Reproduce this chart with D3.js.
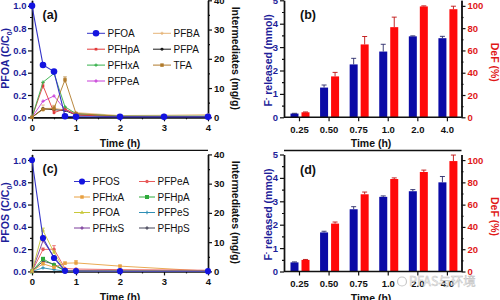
<!DOCTYPE html>
<html>
<head>
<meta charset="utf-8">
<script src="https://cdn.jsdelivr.net/npm/d3@7"></script>
<style>
body { margin: 0; background: #fff; }
svg { font-family: "Liberation Sans", Arial, sans-serif; }
</style>
</head>
<body>
<svg id="chart" width="500" height="300"></svg>
<script>
// ---- panel (a): PFOA degradation ----
var timeA = [0, 0.25, 0.5, 0.75, 1, 2, 3, 4];
var pfoaA = [1.0, 0.47, 0.41, 0.01, 0.005, 0.004, 0.004, 0.004];
var pfoaErrA = [0, 0.02, 0.012, 0.004, 0, 0, 0, 0];
var pfhpaA = [0, 10.8, 1.6, 2.9, 0.8, 0.3, 0.3, 0.3];
var pfhpaErrA = [0, 1.0, 0.6, 0.3, 0, 0, 0, 0];
var pfhxaA = [0, 12.0, 15.0, 3.6, 1.2, 0.4, 0.4, 0.4];
var pfpeaA = [0, 5.5, 7.3, 2.6, 1.0, 0.3, 0.3, 0.3];
var pfbaA = [0, 3.0, 3.1, 2.5, 1.6, 0.6, 0.7, 0.9];
var pfbaErrA = [0, 1.2, 1.0, 0.4, 0, 0, 0, 0];
var pfpaA = [0, 2.9, 2.6, 2.3, 0.8, 0.2, 0.2, 0.2];
var tfaA = [0, 2.7, 3.0, 12.8, 1.3, 0.3, 0.3, 0.3];
var tfaErrA = [0, 0.3, 0.8, 1.0, 0, 0, 0, 0];

// ---- panel (c): PFOS degradation ----
var timeC = [0, 0.25, 0.5, 0.75, 1, 2, 4];
var pfosC = [1.0, 0.30, 0.12, 0.005, 0.003, 0.002, 0.002];
var pfosErrC = [0, 0.015, 0.012, 0, 0, 0, 0];
var pfhxaC = [0, 2.6, 1.4, 2.8, 2.9, 1.8, 0.1];
var pfhxaErrC = [0, 0.5, 0.3, 0.4, 0.8, 0.3, 0];
var pfoaC = [0, 14.0, 6.5, 0.3, 0.2, 0.1, 0.1];
var pfoaErrC = [0, 0.8, 0.5, 0, 0, 0, 0];
var pfhxsC = [0, 10.5, 5.0, 0.3, 0.2, 0.1, 0.1];
var pfpeaC = [0, 7.5, 7.6, 1.0, 0.8, 0.6, 0.4];
var pfpeaErrC = [0, 0.5, 1.2, 0, 0, 0, 0];
var pfhpaC = [0, 4.3, 2.1, 0.2, 0.1, 0.1, 0.1];
var pfpesC = [0, 1.2, 0.6, 0.1, 0, 0, 0];
var pfhpsC = [0, 3.5, 2.5, 0.2, 0.1, 0.1, 0.1];

// ---- panels (b) and (d): fluoride release ----
var timeCats = ["0.25", "0.50", "0.75", "1.0", "2.0", "4.0"];
var fRelB = [0.16, 1.27, 2.26, 2.81, 3.46, 3.38];
var fRelErrB = [0.01, 0.11, 0.26, 0.31, 0.02, 0.08];
var defB = [4.5, 36.7, 65.4, 80.9, 99.5, 97.0];
var defErrB = [0.3, 3.6, 7.1, 9.0, 0.5, 2.7];
var fRelD = [0.39, 1.67, 2.66, 3.19, 3.43, 3.81];
var fRelErrD = [0.02, 0.05, 0.11, 0.04, 0.07, 0.25];
var defD = [10.4, 43.0, 69.3, 83.0, 89.3, 99.1];
var defErrD = [0.4, 1.4, 2.0, 1.0, 1.7, 5.4];

var blueTxt = "#1e1e9a";
var redTxt = "#e01818";
var barBlue = "#0b0ba6";
var barRed = "#ff0a0a";

var svg = d3.select("#chart");

function styleAxis(g, color) {
    g.select(".domain").attr("stroke", "#111").attr("stroke-width", 1.4);
    g.selectAll(".tick line").attr("stroke", "#111").attr("stroke-width", 1.2);
    g.selectAll(".tick text")
        .attr("fill", color)
        .attr("font-weight", "bold")
        .attr("font-size", 9.5)
        .attr("font-family", "Liberation Sans, Arial, sans-serif");
}

// majors with labels + minors without
function addAxis(g, axisFn, scale, majors, minors, fmt, color, pad) {
    var a = g.append("g");
    a.call(axisFn(scale).tickValues(majors).tickSize(4).tickSizeOuter(0).tickPadding(pad).tickFormat(fmt));
    styleAxis(a, color);
    var m = g.append("g");
    m.call(axisFn(scale).tickValues(minors).tickSize(2).tickSizeOuter(0).tickFormat(""));
    styleAxis(m, color);
    return a;
}

function marker(sel, s) {
    sel.attr("d", d3.symbol().type(s.sym).size(s.size))
        .attr("fill", s.color)
        .attr("stroke", "none");
}

function linePanel(p) {
    var g = svg.append("g");
    var x = d3.scaleLinear().domain([0, 4]).range([32, 208]);
    var yL = d3.scaleLinear().domain([0, 1.05]).range([p.bottom, p.bottom - 117]);
    var yR = d3.scaleLinear().domain([0, 40]).range([p.bottom, p.bottom - 117]);

    // top frame
    g.append("line").attr("x1", 32).attr("x2", 208)
        .attr("y1", p.bottom - 121).attr("y2", p.bottom - 121)
        .attr("stroke", "#111").attr("stroke-width", 1.4);

    var gx = g.append("g").attr("transform", "translate(0," + p.bottom + ")");
    addAxis(gx, d3.axisBottom, x, [0, 1, 2, 3, 4], [0.5, 1.5, 2.5, 3.5], d3.format("d"), "#111", 3);
    var gl = g.append("g").attr("transform", "translate(32,0)");
    addAxis(gl, d3.axisLeft, yL, [0, 0.2, 0.4, 0.6, 0.8, 1.0], [0.1, 0.3, 0.5, 0.7, 0.9], d3.format(".1f"), blueTxt, 1.5);
    var gr = g.append("g").attr("transform", "translate(208,0)");
    addAxis(gr, d3.axisRight, yR, [0, 10, 20, 30, 40], [5, 15, 25, 35], d3.format("d"), "#111", 2);

    var all = p.inter.concat([p.main]);
    all.forEach(function (s) {
        var y = s.axis === "L" ? yL : yR;
        var pts = s.t.map(function (t, i) { return [t, s.v[i], s.err ? s.err[i] : 0]; });
        g.append("path")
            .attr("fill", "none")
            .attr("stroke", s.line || s.color)
            .attr("stroke-width", s.axis === "L" ? 1.1 : 0.9)
            .attr("d", d3.line().x(function (d) { return x(d[0]); }).y(function (d) { return y(d[1]); })(pts));
        pts.forEach(function (d) {
            if (d[2] > 0) {
                var y1 = y(d[1] + d[2]), y2 = y(Math.max(0, d[1] - d[2]));
                g.append("line").attr("x1", x(d[0])).attr("x2", x(d[0])).attr("y1", y1).attr("y2", y2)
                    .attr("stroke", s.color).attr("stroke-width", 0.8);
                g.append("line").attr("x1", x(d[0]) - 1.8).attr("x2", x(d[0]) + 1.8).attr("y1", y1).attr("y2", y1)
                    .attr("stroke", s.color).attr("stroke-width", 0.8);
            }
        });
        g.selectAll(null).data(pts).enter().append("path")
            .attr("transform", function (d) { return "translate(" + x(d[0]) + "," + y(d[1]) + ")"; })
            .call(marker, s);
    });

    // legend
    p.legend.forEach(function (it) {
        var s = it.s;
        g.append("line").attr("x1", it.x1).attr("x2", it.x2).attr("y1", it.y).attr("y2", it.y)
            .attr("stroke", s.line || s.color).attr("stroke-width", 1);
        g.append("path")
            .attr("transform", "translate(" + ((it.x1 + it.x2) / 2) + "," + it.y + ")")
            .call(marker, s);
        g.append("text").attr("x", it.x2 + 2.5).attr("y", it.y + 3.6)
            .attr("font-size", 10).attr("fill", "#111").text(s.name);
    });

    // titles
    g.append("text").attr("x", 42.5).attr("y", p.bottom - 98).attr("font-size", 12.5)
        .attr("font-weight", "bold").attr("fill", "#111").text(p.letter);
    g.append("text").attr("x", 120).attr("y", p.bottom + 30)
        .attr("text-anchor", "middle").attr("font-size", 10.5).attr("font-weight", "bold")
        .attr("fill", "#111").text("Time (h)");
    var lt = g.append("text")
        .attr("transform", "translate(9," + (p.bottom - 59) + ") rotate(-90)")
        .attr("text-anchor", "middle").attr("font-size", 10.5).attr("font-weight", "bold")
        .attr("fill", blueTxt);
    lt.append("tspan").text(p.yTitle + " (C/C");
    lt.append("tspan").attr("font-size", 7).attr("dy", 2.5).text("0");
    lt.append("tspan").attr("dy", -2.5).text(")");
    g.append("text")
        .attr("transform", "translate(232," + (p.bottom - 59) + ") rotate(90)")
        .attr("text-anchor", "middle").attr("font-size", 10.5).attr("font-weight", "bold")
        .attr("fill", "#111").text("Intermediates (mg/g)");
}

function barPanel(p) {
    var g = svg.append("g");
    var x0 = 284, x1 = 461.5;
    var x = d3.scaleBand().domain(timeCats).range([x0, x1]);
    var yL = d3.scaleLinear().domain([0, 5]).range([p.bottom, p.bottom - 117]);
    var yR = d3.scaleLinear().domain([0, 105]).range([p.bottom, p.bottom - 117]);

    g.append("line").attr("x1", x0).attr("x2", x1)
        .attr("y1", p.bottom - 121).attr("y2", p.bottom - 121)
        .attr("stroke", "#111").attr("stroke-width", 1.4);

    function cx(c) { return x(c) + x.bandwidth() / 2 + 0.7; }

    // bars
    g.selectAll(null).data(timeCats).enter().append("rect")
        .attr("x", function (c) { return cx(c) - 9; })
        .attr("width", 8)
        .attr("y", function (c, i) { return yL(p.fRel[i]); })
        .attr("height", function (c, i) { return p.bottom - yL(p.fRel[i]); })
        .attr("fill", barBlue);
    g.selectAll(null).data(timeCats).enter().append("rect")
        .attr("x", function (c) { return cx(c) + 2; })
        .attr("width", 8)
        .attr("y", function (c, i) { return yR(p.def[i]); })
        .attr("height", function (c, i) { return p.bottom - yR(p.def[i]); })
        .attr("fill", barRed);

    // error bars (upper side)
    timeCats.forEach(function (c, i) {
        var bx = cx(c) - 5, top = yL(p.fRel[i]), e = yL(p.fRel[i] + p.fRelErr[i]);
        g.append("line").attr("x1", bx).attr("x2", bx).attr("y1", top).attr("y2", e).attr("stroke", "#2a2a6a").attr("stroke-width", 0.9);
        g.append("line").attr("x1", bx - 2.5).attr("x2", bx + 2.5).attr("y1", e).attr("y2", e).attr("stroke", "#2a2a6a").attr("stroke-width", 0.9);
        var rx = cx(c) + 6, rtop = yR(p.def[i]), re = yR(p.def[i] + p.defErr[i]);
        g.append("line").attr("x1", rx).attr("x2", rx).attr("y1", rtop).attr("y2", re).attr("stroke", "#c01010").attr("stroke-width", 0.9);
        g.append("line").attr("x1", rx - 2.5).attr("x2", rx + 2.5).attr("y1", re).attr("y2", re).attr("stroke", "#c01010").attr("stroke-width", 0.9);
    });

    // axes
    var gx = g.append("g").attr("transform", "translate(0," + p.bottom + ")");
    gx.append("line").attr("x1", x0).attr("x2", x1).attr("stroke", "#111").attr("stroke-width", 1.4);
    timeCats.forEach(function (c) {
        gx.append("line").attr("x1", cx(c)).attr("x2", cx(c)).attr("y1", 0).attr("y2", 4)
            .attr("stroke", "#111").attr("stroke-width", 1.2);
        gx.append("text").attr("x", cx(c)).attr("y", 15.5).attr("text-anchor", "middle")
            .attr("font-size", 9.5).attr("font-weight", "bold").attr("fill", "#111").text(c);
    });
    var gl = g.append("g").attr("transform", "translate(" + x0 + ",0)");
    addAxis(gl, d3.axisLeft, yL, [0, 1, 2, 3, 4, 5], [0.5, 1.5, 2.5, 3.5, 4.5], d3.format("d"), blueTxt, 2);
    var gr = g.append("g").attr("transform", "translate(" + x1 + ",0)");
    addAxis(gr, d3.axisRight, yR, [0, 20, 40, 60, 80, 100], [10, 30, 50, 70, 90], d3.format("d"), redTxt, 2);

    g.append("text").attr("x", 300).attr("y", p.bottom - 98).attr("font-size", 12.5)
        .attr("font-weight", "bold").attr("fill", "#111").text(p.letter);
    g.append("text").attr("x", 371).attr("y", p.bottom + 30)
        .attr("text-anchor", "middle").attr("font-size", 10.5).attr("font-weight", "bold")
        .attr("fill", "#111").text("Time (h)");
    var lt = g.append("text")
        .attr("transform", "translate(272," + (p.bottom - 57) + ") rotate(-90)")
        .attr("text-anchor", "middle").attr("font-size", 10.5).attr("font-weight", "bold")
        .attr("fill", blueTxt);
    lt.append("tspan").text("F");
    lt.append("tspan").attr("font-size", 7).attr("dy", -4).text("-");
    lt.append("tspan").attr("dy", 4).text(" released (mmol)");
    g.append("text")
        .attr("transform", "translate(491," + (p.bottom - 55) + ") rotate(90)")
        .attr("text-anchor", "middle").attr("font-size", 10.5).attr("font-weight", "bold")
        .attr("fill", redTxt).text("DeF (%)");
}

var S = d3.symbolSquare, C = d3.symbolCircle, X = d3.symbolCross, T = d3.symbolTriangle;

var sPFOA = { name: "PFOA", t: timeA, v: pfoaA, err: pfoaErrA, color: "#1414e0", line: "#3434c8", sym: C, size: 34, axis: "L" };
var sPFHpA = { name: "PFHpA", t: timeA, v: pfhpaA, err: pfhpaErrA, color: "#e23a3a", sym: S, size: 7, axis: "R" };
var sPFHxA = { name: "PFHxA", t: timeA, v: pfhxaA, color: "#34b04a", sym: X, size: 6, axis: "R" };
var sPFPeA = { name: "PFPeA", t: timeA, v: pfpeaA, color: "#c83ed8", sym: X, size: 6, axis: "R" };
var sPFBA = { name: "PFBA", t: timeA, v: pfbaA, err: pfbaErrA, color: "#e6b478", sym: X, size: 6, axis: "R" };
var sPFPA = { name: "PFPA", t: timeA, v: pfpaA, color: "#1a1a1a", sym: C, size: 7, axis: "R" };
var sTFA = { name: "TFA", t: timeA, v: tfaA, err: tfaErrA, color: "#b07a2a", sym: S, size: 12, axis: "R" };

linePanel({
    bottom: 117.3, letter: "(a)", yTitle: "PFOA",
    main: sPFOA,
    inter: [sPFBA, sPFPA, sPFPeA, sPFHpA, sPFHxA, sTFA],
    legend: [
        { s: sPFOA, x1: 87, x2: 105, y: 33.3 },
        { s: sPFHpA, x1: 87, x2: 105, y: 49.2 },
        { s: sPFHxA, x1: 87, x2: 105, y: 65.1 },
        { s: sPFPeA, x1: 87, x2: 105, y: 81 },
        { s: sPFBA, x1: 153, x2: 171, y: 33.3 },
        { s: sPFPA, x1: 153, x2: 171, y: 49.2 },
        { s: sTFA, x1: 153, x2: 171, y: 65.1 }
    ]
});

var cPFOS = { name: "PFOS", t: timeC, v: pfosC, err: pfosErrC, color: "#1414e0", line: "#3434c8", sym: C, size: 30, axis: "L" };
var cPFHxA = { name: "PFHxA", t: timeC, v: pfhxaC, err: pfhxaErrC, color: "#e8a040", sym: S, size: 12, axis: "R" };
var cPFOA = { name: "PFOA", t: timeC, v: pfoaC, err: pfoaErrC, color: "#c8c83a", sym: T, size: 7, axis: "R" };
var cPFHxS = { name: "PFHxS", t: timeC, v: pfhxsC, color: "#7a3a9a", sym: X, size: 6, axis: "R" };
var cPFPeA = { name: "PFPeA", t: timeC, v: pfpeaC, err: pfpeaErrC, color: "#e85a5a", sym: C, size: 9, axis: "R" };
var cPFHpA = { name: "PFHpA", t: timeC, v: pfhpaC, color: "#2eaa3a", sym: S, size: 16, axis: "R" };
var cPFPeS = { name: "PFPeS", t: timeC, v: pfpesC, color: "#2f8fb5", sym: X, size: 6, axis: "R" };
var cPFHpS = { name: "PFHpS", t: timeC, v: pfhpsC, color: "#444458", sym: X, size: 6, axis: "R" };

linePanel({
    bottom: 271.4, letter: "(c)", yTitle: "PFOS",
    main: cPFOS,
    inter: [cPFPeS, cPFHpS, cPFHpA, cPFHxA, cPFPeA, cPFHxS, cPFOA],
    legend: [
        { s: cPFOS, x1: 74, x2: 90, y: 181.5 },
        { s: cPFHxA, x1: 74, x2: 90, y: 197 },
        { s: cPFOA, x1: 74, x2: 90, y: 212.5 },
        { s: cPFHxS, x1: 74, x2: 90, y: 228 },
        { s: cPFPeA, x1: 139, x2: 155, y: 181.5 },
        { s: cPFHpA, x1: 139, x2: 155, y: 197 },
        { s: cPFPeS, x1: 139, x2: 155, y: 212.5 },
        { s: cPFHpS, x1: 139, x2: 155, y: 228 }
    ]
});

barPanel({ bottom: 117.3, letter: "(b)", fRel: fRelB, fRelErr: fRelErrB, def: defB, defErr: defErrB });
barPanel({ bottom: 271.5, letter: "(d)", fRel: fRelD, fRelErr: fRelErrD, def: defD, defErr: defErrD });

// watermark
svg.append("circle").attr("cx", 402).attr("cy", 281.5).attr("r", 4.5)
    .attr("fill", "none").attr("stroke", "#c8c8c8").attr("stroke-width", 1.2);
svg.append("text").attr("x", 409).attr("y", 286)
    .attr("font-family", "Noto Sans CJK SC, sans-serif").attr("font-size", 12.5)
    .attr("fill", "#f4f4f4").attr("stroke", "#b8b8b8").attr("stroke-width", 0.5)
    .attr("opacity", 0.85).text("PFAS与环境");
</script>
</body>
</html>
